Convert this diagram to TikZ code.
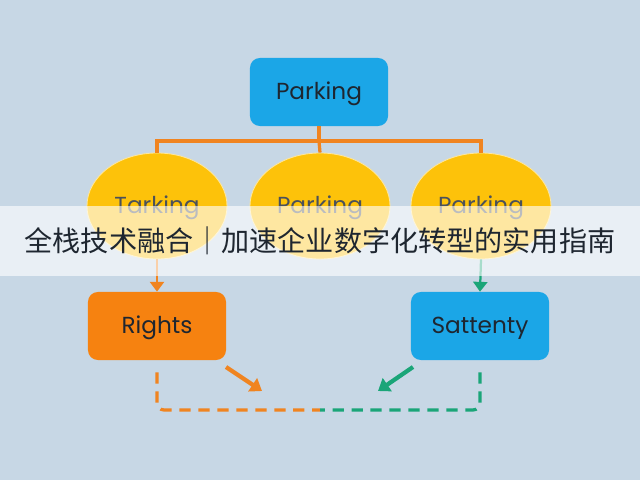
\documentclass[tikz,border=0pt]{standalone}
\usepackage{fontspec}
\setmainfont{Poppins}
\newfontfamily\cjk{Noto Sans CJK SC}
\usetikzlibrary{arrows.meta,shapes.geometric}

\definecolor{bgblue}{RGB}{199,215,229}
\definecolor{boxblue}{RGB}{27,166,231}
\definecolor{boxorange}{RGB}{246,130,16}
\definecolor{elyellow}{RGB}{253,194,10}
\definecolor{linkorange}{RGB}{240,132,32}
\definecolor{linkgreen}{RGB}{26,165,120}
\definecolor{txtdark}{RGB}{30,38,48}

\tikzset{
  box/.style={rectangle, rounded corners=7pt, minimum width=3.45cm, minimum height=1.7cm,
    text=txtdark, font=\fontsize{16.5}{18}\selectfont, text height=12.5pt, text depth=1.5pt, draw=none},
  blob/.style={ellipse, fill=elyellow, draw=elyellow!40!white, line width=0.6pt,
    minimum width=3.5cm, minimum height=2.65cm, text=txtdark!80, font=\fontsize{16.5}{18}\selectfont,
    text height=12.5pt, text depth=1.5pt},
  tree/.style={draw=linkorange, line width=2.3pt},
  dashlink/.style={line width=2.3pt, dash pattern=on 8pt off 5.5pt, rounded corners=5pt},
  pointer/.style={line width=3pt, -{Triangle[length=8pt,width=11pt]}},
}

\begin{document}
\begin{tikzpicture}[x=0.025cm, y=-0.025cm]
                \fill[bgblue] (0,0) rectangle (640,480);
                \useasboundingbox (0,0) rectangle (640,480);

                \node[box, fill=boxblue] (park) at (319,92) {Parking};
                \node[blob] (tark) at (157,206) {Tarking};
                \node[blob] (mid) at (320,206) {Parking};
                \node[blob] (right) at (481,206) {Parking};
                \node[box, fill=boxorange] (rights) at (157,326) {Rights};
                \node[box, fill=boxblue] (satt) at (480,326) {Sattenty};

                \coordinate (bus) at (319,141);
                \coordinate (meet) at (320,410);
                \coordinate (oa) at (226,367);
                \coordinate (ob) at (262,391);
                \coordinate (ga) at (413,367);
                \coordinate (gb) at (378,391);

                \draw[tree] (park.south) to (bus);
                \draw[tree] (bus) -| (tark.north);
                \draw[tree] (bus) to (mid.north);
                \draw[tree] (bus) -| (right.north);

                \draw[draw=linkorange, line width=1.6pt, -{Triangle[length=7pt,width=10pt]}] (tark.south) to (rights.north);
                \draw[draw=linkgreen, line width=1.6pt, -{Triangle[length=7pt,width=10pt]}] (right.south) to (satt.north);

                \draw[dashlink, draw=linkorange, shorten <=0.3cm] (rights.south) |- (meet);
                \draw[dashlink, draw=linkgreen, shorten <=0.3cm] (satt.south) |- (meet);

                \draw[pointer, draw=linkorange, fill=linkorange] (oa) to (ob);
                \draw[pointer, draw=linkgreen, fill=linkgreen] (ga) to (gb);

                \node[fill=white, fill opacity=0.62, text opacity=1, inner sep=0pt,
                  minimum width=16cm, minimum height=1.75cm, text=txtdark,
                  font=\cjk\fontsize{20}{22}\selectfont] (banner) at (320,241) {全栈技术融合｜加速企业数字化转型的实用指南};
            \end{tikzpicture}
\end{document}
